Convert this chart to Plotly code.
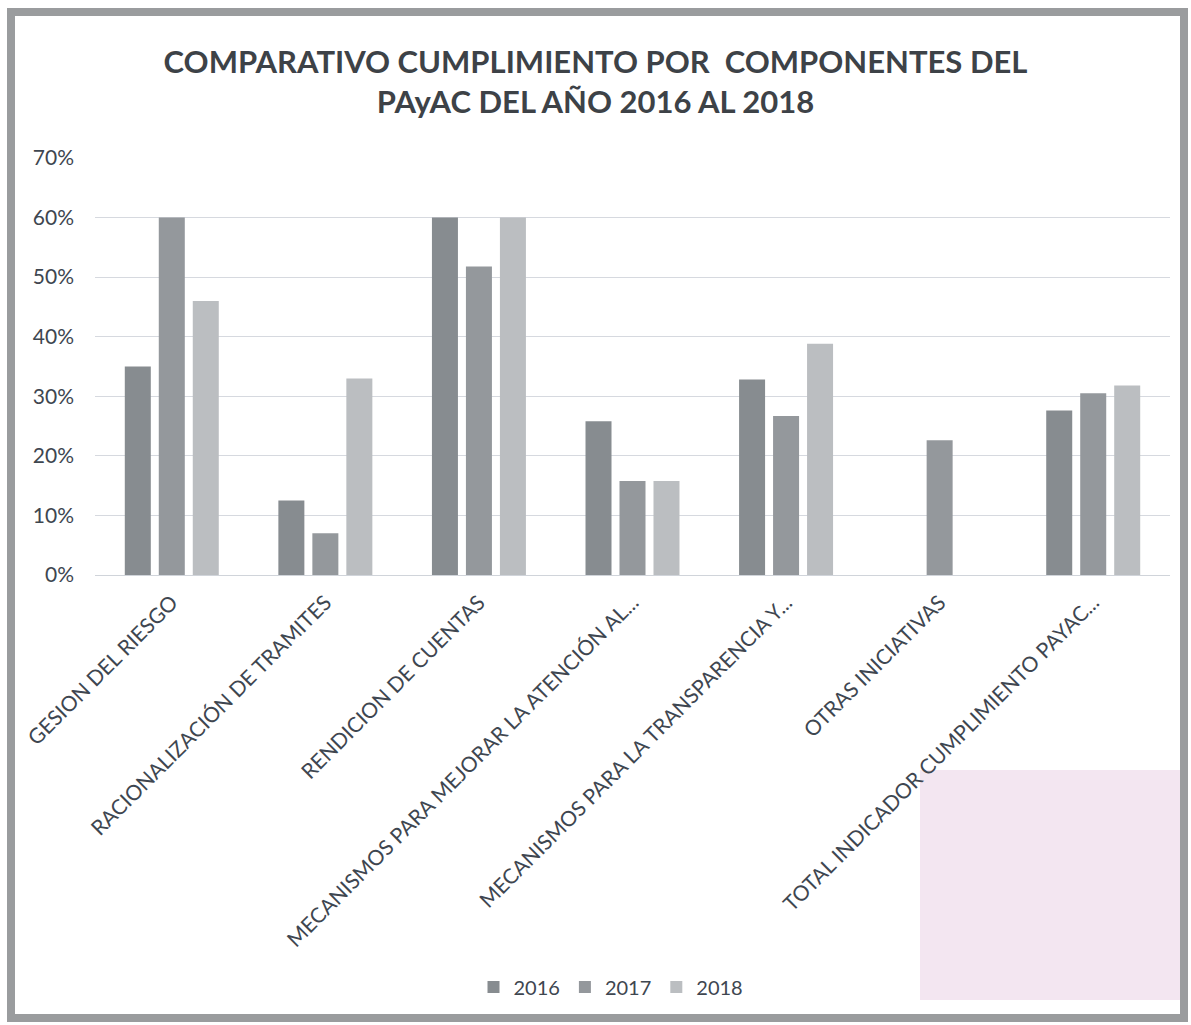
import plotly.graph_objects as go

categories = [
    "GESION DEL RIESGO",
    "RACIONALIZACIÓN DE TRAMITES",
    "RENDICION DE CUENTAS",
    "MECANISMOS PARA MEJORAR LA ATENCIÓN AL...",
    "MECANISMOS PARA LA TRANSPARENCIA Y...",
    "OTRAS INICIATIVAS",
    "TOTAL INDICADOR CUMPLIMIENTO PAYAC...",
]
values_2016 = [0.35, 0.125, 0.60, 0.258, 0.328, None, 0.276]
values_2017 = [0.60, 0.07, 0.518, 0.158, 0.267, 0.226, 0.305]
values_2018 = [0.46, 0.33, 0.60, 0.158, 0.388, None, 0.318]
series_names = ["2016", "2017", "2018"]
y_ticks = [0, 0.1, 0.2, 0.3, 0.4, 0.5, 0.6, 0.7]

colors = ["#878c90", "#94989c", "#bbbec1"]
FONT = "Lato, 'Open Sans', sans-serif"
TXT = "#3e4650"
W, H = 1191, 1025
ml, mr, mt, mb = 95, 21, 158, 450
pw, ph = W - ml - mr, H - mt - mb

fig = go.Figure()
for name, vals, col in zip(series_names, [values_2016, values_2017, values_2018], colors):
    fig.add_trace(go.Bar(name=name, x=categories, y=vals, marker=dict(color=col, line=dict(width=0))))

fig.update_layout(
    width=W, height=H,
    margin=dict(l=ml, r=mr, t=mt, b=mb),
    paper_bgcolor="white", plot_bgcolor="white",
    barmode="group", bargap=0.336, bargroupgap=0.235,
    title=dict(
        text="<b>COMPARATIVO CUMPLIMIENTO POR  COMPONENTES DEL<br>PAyAC DEL AÑO 2016 AL 2018</b>",
        x=0.5, xanchor="center", y=1 - 73 / H, yanchor="middle",
        font=dict(family=FONT, size=31, color="#3d4247"),
    ),
    font=dict(family=FONT, color=TXT),
    legend=dict(
        orientation="h", x=0.48, xanchor="center", y=-(987 - 575) / ph, yanchor="middle",
        font=dict(family=FONT, size=20, color=TXT), itemwidth=30, traceorder="normal",
    ),
    xaxis=dict(
        tickangle=-45, tickfont=dict(family=FONT, size=21, color=TXT),
        showgrid=False, showline=True, linecolor="#d0d4da", linewidth=1, ticks="",
        ticklabelstandoff=6,
    ),
    yaxis=dict(
        range=[0, 0.7], tickvals=y_ticks, tickformat=".0%",
        tickfont=dict(family=FONT, size=21, color=TXT),
        showgrid=True, gridcolor="#d6d9df", gridwidth=1, zeroline=False,
        showline=False, ticks="", ticklabelstandoff=20,
    ),
    shapes=[
        dict(type="rect", xref="paper", yref="paper",
             x0=(920 - ml) / pw, x1=(1183 - ml) / pw,
             y0=-(1000 - mt - ph) / ph, y1=-(770 - mt - ph) / ph,
             fillcolor="#f3e6f1", line=dict(width=0), layer="below"),
        dict(type="rect", xref="paper", yref="paper",
             x0=-(ml - 11) / pw, x1=1 + (mr - 7) / pw,
             y0=-(mb - 7) / ph, y1=1 + (mt - 12) / ph,
             line=dict(color="#9a9c9e", width=8), layer="above"),
    ],
)

fig.write_html(
    "out.html",
    config={"displayModeBar": False},
    post_script="document.body.style.margin='0';document.body.style.overflow='hidden';",
)
